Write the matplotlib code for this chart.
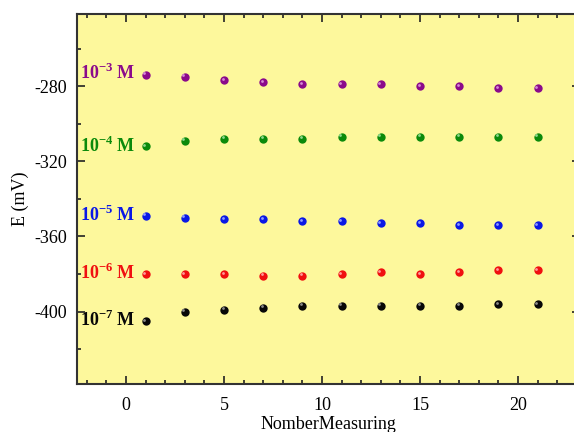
import matplotlib
matplotlib.use("Agg")
import matplotlib.pyplot as plt
from matplotlib.ticker import MultipleLocator
from matplotlib.transforms import offset_copy

plt.rcParams['font.family'] = ['Liberation Serif', 'DejaVu Serif']
plt.rcParams['mathtext.fontset'] = 'custom'
plt.rcParams['mathtext.rm'] = 'Liberation Serif'
plt.rcParams['mathtext.bf'] = 'Liberation Serif:bold'
plt.rcParams['axes.unicode_minus'] = False

# measurement number
measure = [1, 3, 5, 7, 9, 11, 13, 15, 17, 19, 21]

# potential (mV) for each concentration
e_1e3 = [-274, -275, -277, -278, -279, -279, -279, -280, -280, -281, -281]
e_1e4 = [-312, -309, -308, -308, -308, -307, -307, -307, -307, -307, -307]
e_1e5 = [-349, -350, -351, -351, -352, -352, -353, -353, -354, -354, -354]
e_1e6 = [-380, -380, -380, -381, -381, -380, -379, -380, -379, -378, -378]
e_1e7 = [-405, -400, -399, -398, -397, -397, -397, -397, -397, -396, -396]

labels = ['3', '4', '5', '6', '7']
label_y = [-273, -312, -348.5, -379.5, -404.5]
series = [e_1e3, e_1e4, e_1e5, e_1e6, e_1e7]
colors = ['#8b0a8b', '#0b8a0b', '#0a18e6', '#f01010', '#080808']
highlight = ['#d58ad5', '#8fd88f', '#8f9cff', '#ff9a9a', '#8a8a8a']

fig = plt.figure(figsize=(5.74, 4.32), dpi=100)
ax = fig.add_axes([77 / 574, 48 / 432, 503 / 574, 370 / 432])
ax.set_facecolor('#fdf89c')

hl = offset_copy(ax.transData, fig=fig, x=-1.0, y=1.0, units='points')
for ys, c, h, lab, ly in zip(series, colors, highlight, labels, label_y):
    ax.plot(measure, ys, 'o', color=c, markersize=6, markeredgewidth=0, zorder=3)
    ax.plot(measure, ys, 'o', color=h, markersize=2, markeredgewidth=0,
            transform=hl, zorder=4)
    ax.text(-2.35, ly, r'10$^{\mathbf{-%s}}$ M' % lab, color=c,
            fontsize=13, fontweight='bold', ha='left', va='center')

ax.set_xlim(-2.5, 23.16)
ax.set_ylim(-438.6, -241.6)
ax.xaxis.set_major_locator(MultipleLocator(5))
ax.xaxis.set_minor_locator(MultipleLocator(1))
ax.yaxis.set_major_locator(MultipleLocator(40))
ax.yaxis.set_minor_locator(MultipleLocator(20))
ax.tick_params(which='both', direction='in', top=True, right=True,
               labelsize=13, color='#222222', width=1.2)
ax.tick_params(which='major', length=6)
ax.tick_params(which='minor', length=3)
ax.tick_params(axis='x', pad=9)
ax.tick_params(axis='y', pad=7)
for sp in ax.spines.values():
    sp.set_linewidth(1.5)
    sp.set_color('#333333')

ax.set_xlabel('NomberMeasuring', fontsize=13, labelpad=2)
ax.set_ylabel('E (mV)', fontsize=13, labelpad=4)

fig.savefig('out.png', dpi=100)
